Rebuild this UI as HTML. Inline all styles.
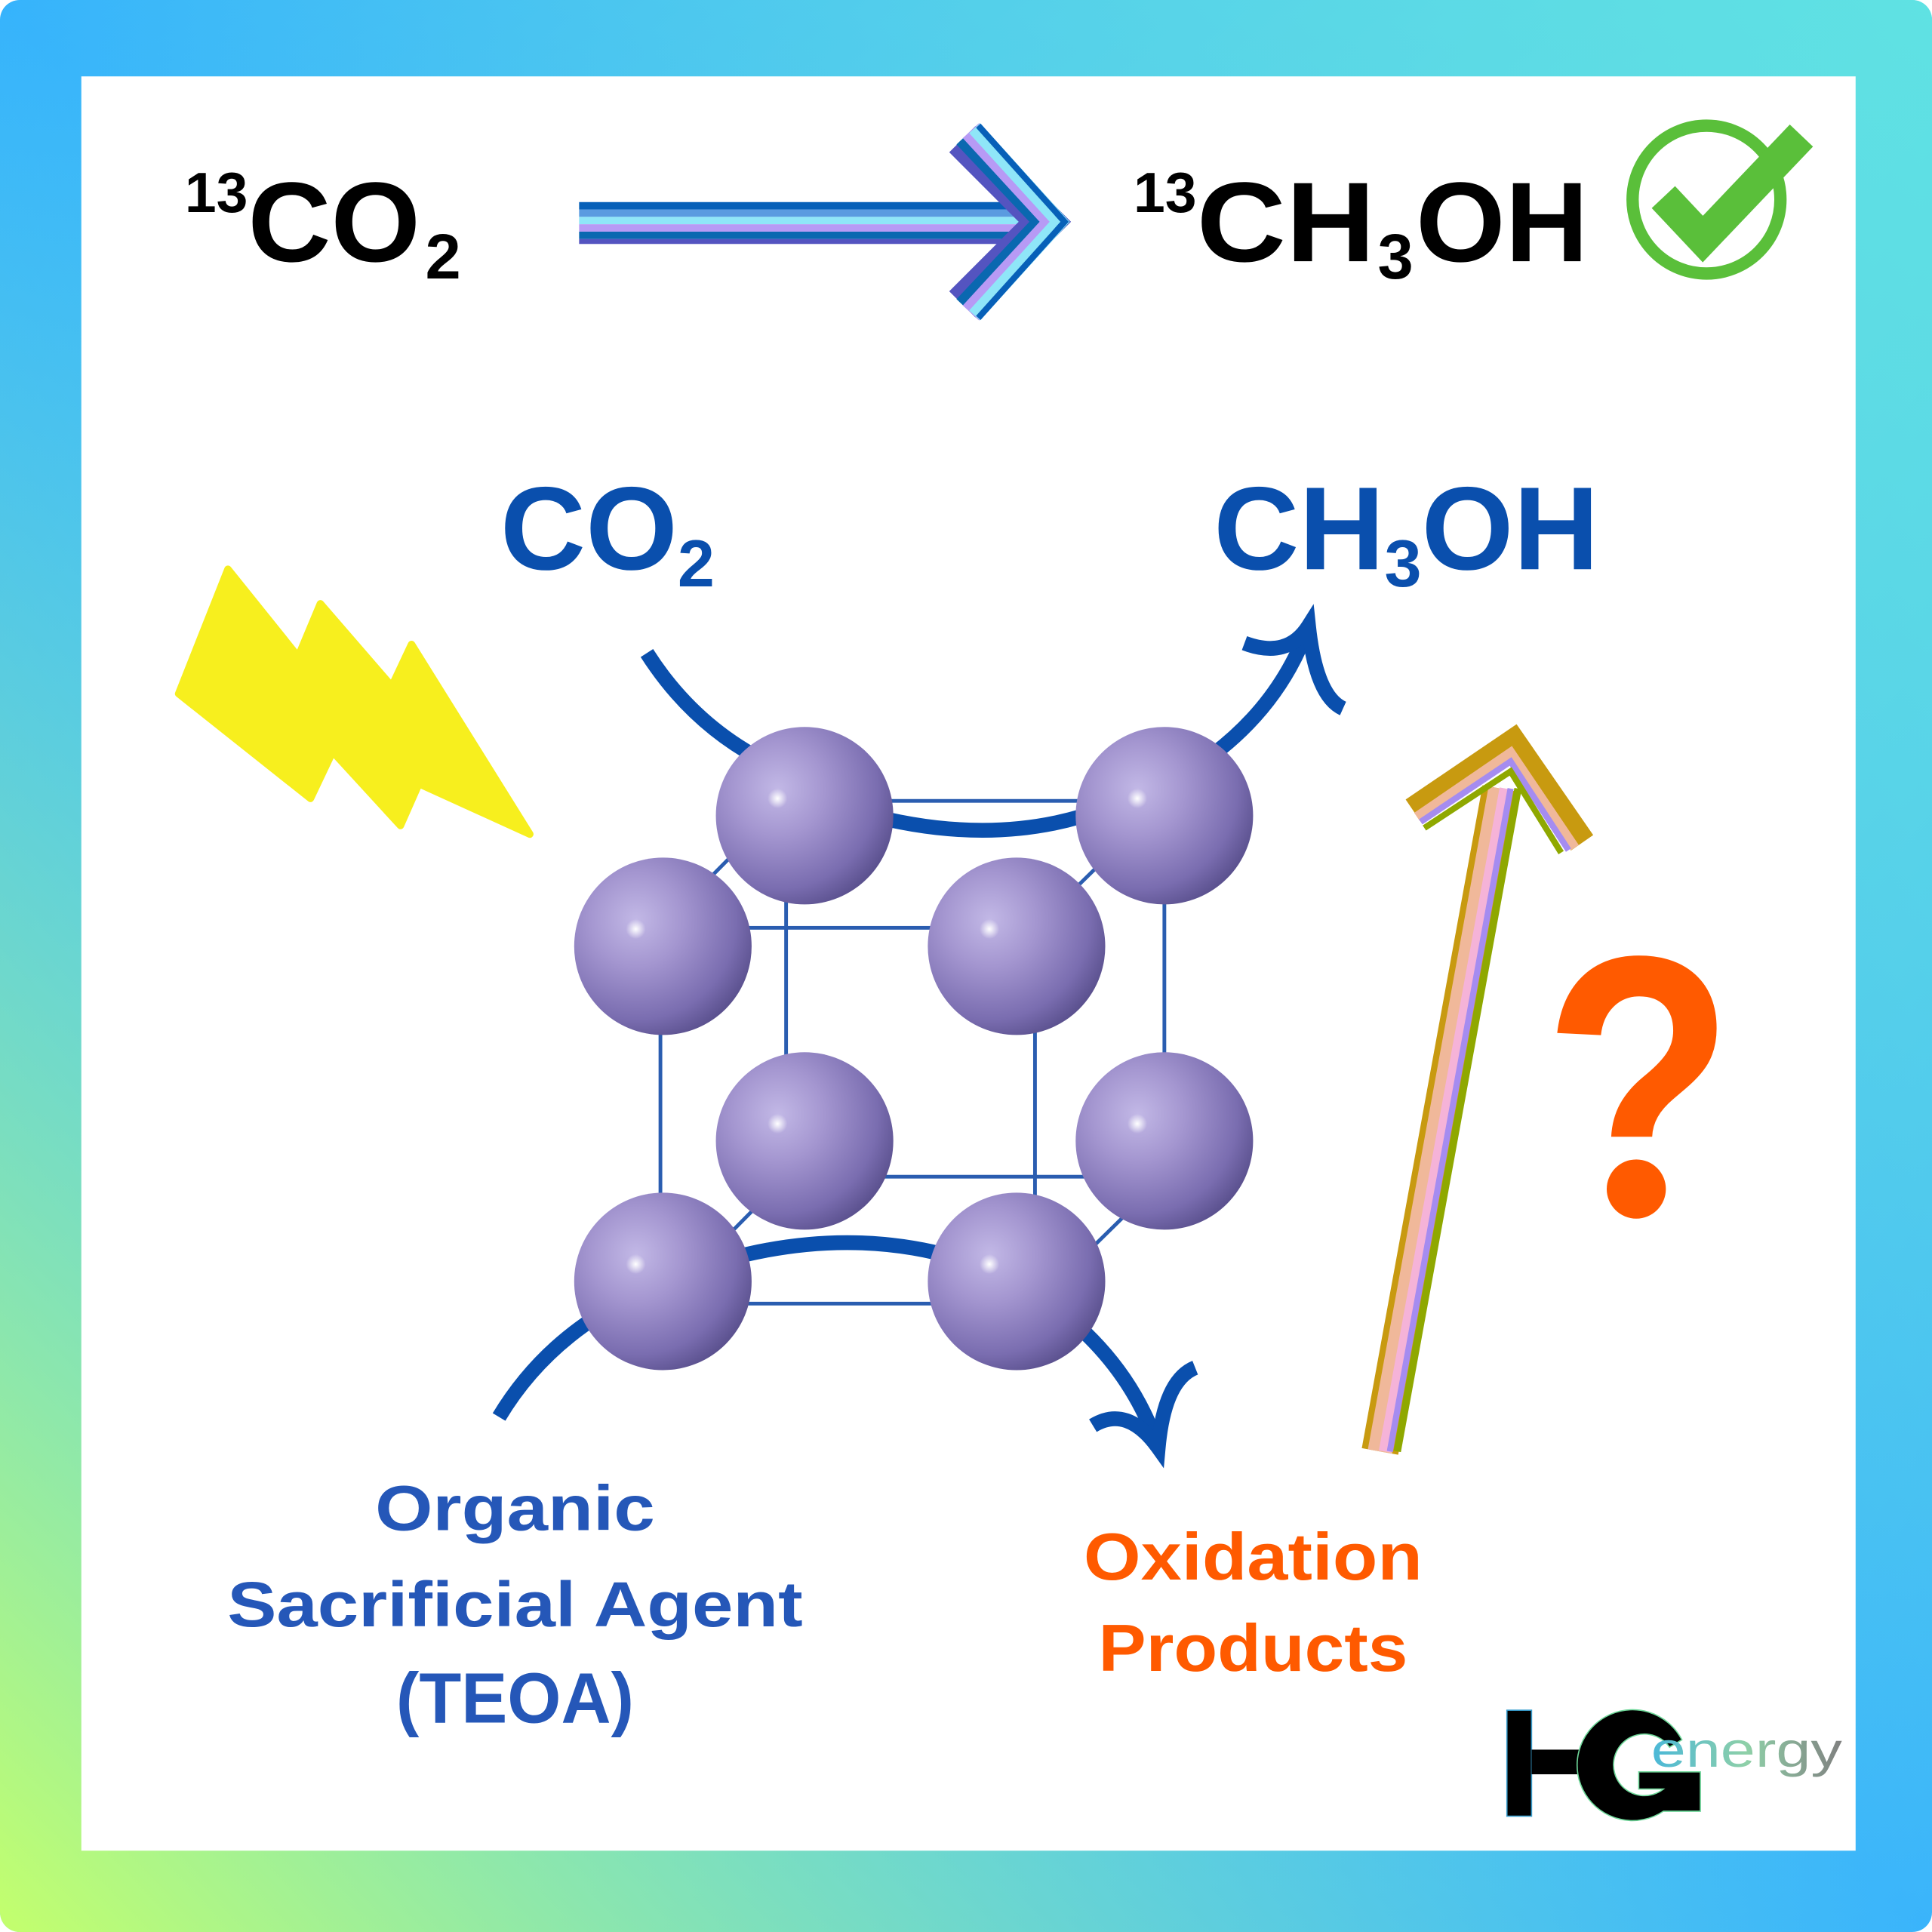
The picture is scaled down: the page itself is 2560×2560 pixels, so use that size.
<!DOCTYPE html>
<html><head><meta charset="utf-8"><style>
html,body{margin:0;padding:0;background:#fff}
svg{display:block}
text{font-family:"Liberation Sans","DejaVu Sans",sans-serif;font-weight:bold}
</style></head><body>
<svg width="2560" height="2560" viewBox="0 0 1568 1568" xmlns="http://www.w3.org/2000/svg">
<defs>
<linearGradient id="bgA" x1="0" y1="0" x2="1" y2="1">
<stop offset="0" stop-color="#36b3fc"/><stop offset="0.5" stop-color="#5fd6e4"/><stop offset="1" stop-color="#3ab4fb"/>
</linearGradient>
<linearGradient id="bgB" x1="1" y1="0" x2="0" y2="1">
<stop offset="0" stop-color="#5fe3e3" stop-opacity="0.9"/><stop offset="0.5" stop-color="#5fd6e4" stop-opacity="0"/><stop offset="1" stop-color="#c4ff6c"/>
</linearGradient>
<linearGradient id="en" x1="0" y1="0" x2="1" y2="0">
<stop offset="0" stop-color="#4ab8d8"/><stop offset="0.5" stop-color="#8fd0a8"/><stop offset="1" stop-color="#808080"/>
</linearGradient>
<radialGradient id="sph" cx="0.35" cy="0.35" r="0.75">
<stop offset="0" stop-color="#c2b8e6"/><stop offset="0.35" stop-color="#a496d0"/><stop offset="0.75" stop-color="#7a6db0"/><stop offset="1" stop-color="#524985"/>
</radialGradient>
<radialGradient id="hl" cx="0.5" cy="0.5" r="0.5">
<stop offset="0" stop-color="#fff"/><stop offset="1" stop-color="#fff" stop-opacity="0"/>
</radialGradient>
<symbol id="s" overflow="visible">
<circle cx="0" cy="0" r="72" fill="url(#sph)"/>
<circle cx="-22" cy="-14" r="8" fill="url(#hl)"/>
</symbol>
</defs>
<rect x="0" y="0" width="1568" height="1568" rx="16" fill="url(#bgA)"/>
<rect x="0" y="0" width="1568" height="1568" rx="16" fill="url(#bgB)"/>
<rect x="66" y="62" width="1440" height="1440" fill="#fff"/>

<!-- top equation -->
<text x="150" y="212" font-size="92" fill="#000"><tspan font-size="46" dy="-40">13</tspan><tspan dy="40" textLength="140" lengthAdjust="spacingAndGlyphs">CO</tspan><tspan font-size="52" dy="14" dx="4">2</tspan></text>
<g>
<rect x="470" y="164" width="360" height="6" fill="#0760b8"/>
<rect x="470" y="170" width="360" height="6" fill="#5a9be0"/>
<rect x="470" y="176" width="360" height="6" fill="#8fe6f8"/>
<rect x="470" y="182" width="360" height="6" fill="#b79af5"/>
<rect x="470" y="188" width="360" height="6" fill="#0a68b0"/>
<rect x="470" y="194" width="360" height="4" fill="#5454c0"/>
<polyline points="781,113 848,180 781,247" fill="none" stroke="#5454c0" stroke-width="30"/>
<polyline points="785,109 852,180 785,251" fill="none" stroke="#0a68b0" stroke-width="24"/>
<polyline points="788,106 856,180 788,254" fill="none" stroke="#b79af5" stroke-width="18"/>
<polyline points="791,104 860,180 791,256" fill="none" stroke="#8fe6f8" stroke-width="12"/>
<polyline points="794,102 864,180 794,258" fill="none" stroke="#0760b8" stroke-width="5"/>
</g>
<text x="920" y="212" font-size="92" fill="#000"><tspan font-size="46" dy="-40">13</tspan><tspan dy="40" textLength="145" lengthAdjust="spacingAndGlyphs">CH</tspan><tspan font-size="52" dy="14" dx="2">3</tspan><tspan dy="-14" dx="2" textLength="140" lengthAdjust="spacingAndGlyphs">OH</tspan></text>
<circle cx="1385" cy="162" r="60" fill="none" stroke="#5abf3a" stroke-width="10"/>
<polyline points="1350,160 1382,194 1462,110" fill="none" stroke="#5abf3a" stroke-width="26"/>

<!-- middle labels -->
<text x="406" y="462" font-size="96" fill="#0a4fad">CO<tspan font-size="54" dy="14">2</tspan></text>
<text x="985" y="462" font-size="96" fill="#0a4fad">CH<tspan font-size="54" dy="14">3</tspan><tspan dy="-14">OH</tspan></text>

<!-- lightning -->
<polygon points="185,462 242,533 260,490 318,557 334,523 430,677 340,636 325,670 270,610 252,648 145,563" fill="#f7ef1e" stroke="#f7ef1e" stroke-width="6" stroke-linejoin="round"/>

<!-- cube lines -->
<g stroke="#2a5db0" stroke-width="3" fill="none">
<rect x="638" y="650" width="307" height="305"/>
<rect x="536" y="753" width="304" height="305"/>
<line x1="638" y1="650" x2="536" y2="753"/><line x1="945" y1="650" x2="840" y2="753"/>
<line x1="638" y1="955" x2="536" y2="1058"/><line x1="945" y1="955" x2="840" y2="1058"/>
</g>
<!-- blue curves -->
<g stroke="#0a4fad" stroke-width="12" fill="none">
<path d="M525,530 Q560,585 615,615"/>
<path d="M700,660 Q810,690 900,655"/>
<path d="M985,612 Q1040,570 1062,508"/>
<path d="M1010,522 Q1045,535 1062,508 Q1068,565 1090,575"/>
<path d="M405,1150 Q435,1100 485,1068"/>
<path d="M590,1022 Q690,995 780,1022"/>
<path d="M870,1072 Q920,1115 940,1175"/>
<path d="M887,1157 Q915,1140 940,1175 Q945,1120 970,1110"/>
</g>
<!-- spheres -->
<use href="#s" x="653" y="662"/><use href="#s" x="945" y="662"/>
<use href="#s" x="538" y="768"/><use href="#s" x="825" y="768"/>
<use href="#s" x="653" y="926"/><use href="#s" x="945" y="926"/>
<use href="#s" x="538" y="1040"/><use href="#s" x="825" y="1040"/>

<!-- striped up arrow -->
<g fill="none">
<line x1="1120" y1="1178" x2="1218" y2="640" stroke="#c89a10" stroke-width="30"/>
<line x1="1120" y1="1178" x2="1218" y2="640" stroke="#f0b89a" stroke-width="20"/>
<line x1="1124" y1="1178" x2="1222" y2="640" stroke="#f5b3d8" stroke-width="10"/>
<line x1="1128" y1="1178" x2="1226" y2="640" stroke="#a58cf0" stroke-width="5"/>
<line x1="1134" y1="1178" x2="1232" y2="640" stroke="#8fa800" stroke-width="6"/>
<polyline points="1147,658 1228,603 1284,684" stroke="#c89a10" stroke-width="22"/>
<polyline points="1150,663 1226,611 1278,688" stroke="#f0b89a" stroke-width="8"/>
<polyline points="1153,667 1226,618 1273,690" stroke="#a58cf0" stroke-width="5"/>
<polyline points="1156,672 1226,626 1267,692" stroke="#8fa800" stroke-width="5"/>
</g>

<!-- question mark -->
<text x="0" y="0" font-size="300" fill="#ff5a00" text-anchor="middle" transform="translate(1330,985) scale(0.85,1)">?</text>
<rect x="1298" y="938" width="56" height="52" fill="#fff"/>
<circle cx="1328" cy="965" r="24" fill="#ff5a00"/>

<!-- bottom labels -->
<text x="418" y="1242" font-size="52" fill="#2557b8" text-anchor="middle" textLength="227" lengthAdjust="spacingAndGlyphs">Organic</text>
<text x="418" y="1320" font-size="52" fill="#2557b8" text-anchor="middle" textLength="467" lengthAdjust="spacingAndGlyphs">Sacrificial Agent</text>
<text x="418" y="1398" font-size="58" fill="#2557b8" text-anchor="middle" textLength="193" lengthAdjust="spacingAndGlyphs">(TEOA)</text>
<text x="1017" y="1282" font-size="54" fill="#ff5a00" text-anchor="middle" textLength="275" lengthAdjust="spacingAndGlyphs">Oxidation</text>
<text x="1017" y="1356" font-size="54" fill="#ff5a00" text-anchor="middle" textLength="251" lengthAdjust="spacingAndGlyphs">Products</text>

<!-- logo -->
<g>
<rect x="1223" y="1388" width="20" height="86" fill="#000" stroke="#3a9fd0" stroke-width="1"/>
<rect x="1243" y="1420" width="40" height="20" fill="#000"/>
<path d="M1365,1412 A45,45 0 1 0 1350,1470 L1380,1470 L1380,1438 L1330,1438 L1330,1452 L1350,1452 A25,25 0 1 1 1355,1418 Z" fill="#000" stroke="#6fd89a" stroke-width="1"/>
<text x="1340" y="1434" font-size="40" fill="url(#en)" style="font-weight:normal" textLength="155" lengthAdjust="spacingAndGlyphs">energy</text>
</g>
</svg>
</body></html>
